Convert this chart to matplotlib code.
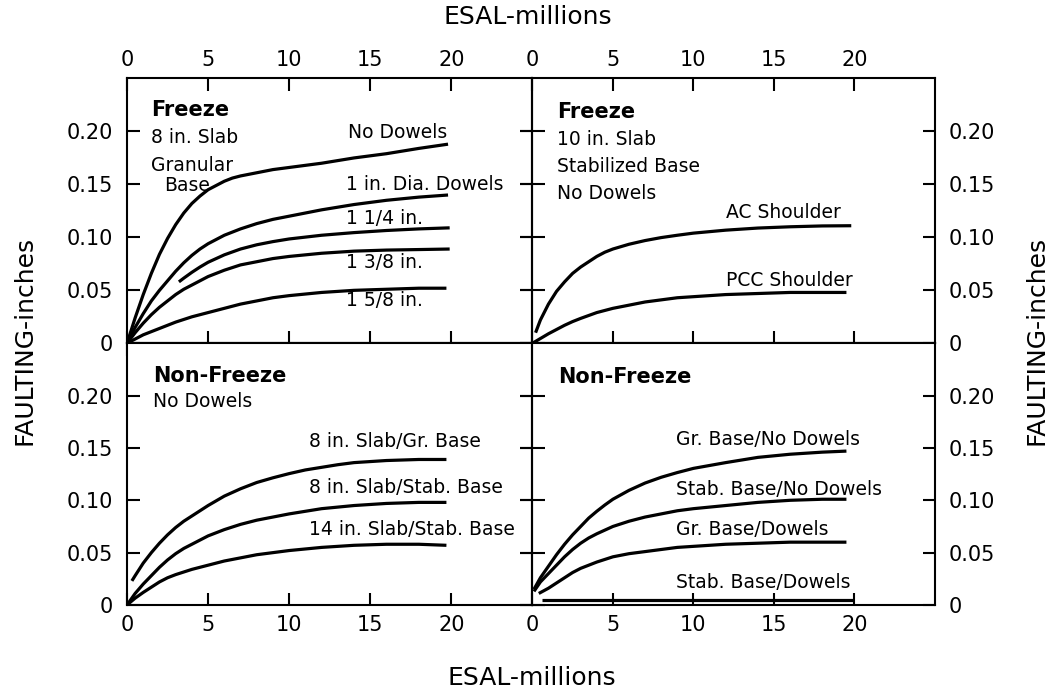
import matplotlib
matplotlib.use("Agg")
import matplotlib.pyplot as plt

plt.rcParams['font.family'] = ['DejaVu Sans']

# x ticks / y ticks
x_ticks = [0, 5, 10, 15, 20]
y_ticks = [0, 0.05, 0.10, 0.15, 0.20]
y_tick_labels = ["0", "0.05", "0.10", "0.15", "0.20"]

# Freeze, 8 in. slab, granular base
fz8_nodowel_x = [0, 0.5, 1, 1.5, 2, 2.5, 3, 3.5, 4, 4.5, 5, 5.5, 6, 6.5, 7, 8, 9, 10, 12, 14, 16, 18, 19.8]
fz8_nodowel_y = [0, 0.024, 0.046, 0.066, 0.084, 0.099, 0.112, 0.123, 0.132, 0.139, 0.145, 0.149, 0.153, 0.156, 0.158, 0.161, 0.164, 0.166, 0.170, 0.175, 0.179, 0.184, 0.188]
fz8_d1_x = [0, 0.5, 1, 1.5, 2, 2.5, 3, 3.5, 4, 4.5, 5, 6, 7, 8, 9, 10, 12, 14, 16, 18, 19.8]
fz8_d1_y = [0, 0.015, 0.028, 0.040, 0.050, 0.059, 0.068, 0.076, 0.083, 0.089, 0.094, 0.102, 0.108, 0.113, 0.117, 0.120, 0.126, 0.131, 0.135, 0.138, 0.140]
fz8_d114_x = [3.2, 3.5, 4, 4.5, 5, 6, 7, 8, 9, 10, 12, 14, 16, 18, 19.9]
fz8_d114_y = [0.058, 0.0615, 0.067, 0.072, 0.0765, 0.0835, 0.089, 0.093, 0.096, 0.0985, 0.102, 0.1045, 0.1065, 0.108, 0.109]
fz8_d138_x = [0, 0.5, 1, 1.5, 2, 2.5, 3, 3.5, 4, 5, 6, 7, 8, 9, 10, 12, 14, 16, 18, 19.9]
fz8_d138_y = [0, 0.010, 0.019, 0.027, 0.034, 0.040, 0.046, 0.051, 0.055, 0.063, 0.069, 0.074, 0.077, 0.080, 0.082, 0.085, 0.087, 0.088, 0.0885, 0.089]
fz8_d158_x = [0, 0.5, 1, 1.5, 2, 3, 4, 5, 6, 7, 8, 9, 10, 12, 14, 16, 18, 19.7]
fz8_d158_y = [0, 0.004, 0.008, 0.011, 0.014, 0.020, 0.025, 0.029, 0.033, 0.037, 0.040, 0.043, 0.045, 0.048, 0.050, 0.051, 0.052, 0.052]

# Freeze, 10 in. slab, stabilized base
fz10_ac_x = [0.2, 0.5, 1, 1.5, 2, 2.5, 3, 3.5, 4, 4.5, 5, 6, 7, 8, 9, 10, 12, 14, 16, 18, 19.8]
fz10_ac_y = [0.010, 0.022, 0.037, 0.049, 0.058, 0.066, 0.072, 0.077, 0.082, 0.086, 0.089, 0.0935, 0.097, 0.0998, 0.102, 0.104, 0.1068, 0.1088, 0.110, 0.1108, 0.111]
fz10_pcc_x = [0, 0.5, 1, 1.5, 2, 2.5, 3, 4, 5, 6, 7, 8, 9, 10, 12, 14, 16, 18, 19.5]
fz10_pcc_y = [0, 0.0045, 0.009, 0.013, 0.017, 0.0205, 0.0235, 0.029, 0.033, 0.036, 0.039, 0.041, 0.043, 0.044, 0.046, 0.047, 0.048, 0.048, 0.048]

# Non-freeze, no dowels
nf_8gr_x = [0.3, 0.5, 1, 1.5, 2, 2.5, 3, 3.5, 4, 4.5, 5, 6, 7, 8, 9, 10, 11, 12, 13, 14, 16, 18, 19.7]
nf_8gr_y = [0.023, 0.028, 0.040, 0.050, 0.059, 0.067, 0.074, 0.080, 0.085, 0.090, 0.095, 0.104, 0.111, 0.117, 0.1215, 0.1255, 0.129, 0.1315, 0.134, 0.136, 0.138, 0.139, 0.139]
nf_8st_x = [0, 0.5, 1, 1.5, 2, 2.5, 3, 3.5, 4, 5, 6, 7, 8, 9, 10, 12, 14, 16, 18, 19.7]
nf_8st_y = [0, 0.011, 0.020, 0.028, 0.036, 0.043, 0.049, 0.054, 0.058, 0.066, 0.072, 0.077, 0.081, 0.084, 0.087, 0.092, 0.095, 0.097, 0.098, 0.098]
nf_14st_x = [0, 0.5, 1, 1.5, 2, 2.5, 3, 4, 5, 6, 7, 8, 9, 10, 12, 14, 16, 18, 19.7]
nf_14st_y = [0, 0.0065, 0.012, 0.017, 0.022, 0.026, 0.029, 0.034, 0.038, 0.042, 0.045, 0.048, 0.050, 0.052, 0.055, 0.057, 0.058, 0.058, 0.057]

# Non-freeze, base / dowel combinations
nf_grnd_x = [0.1, 0.5, 1, 1.5, 2, 2.5, 3, 3.5, 4, 4.5, 5, 6, 7, 8, 9, 10, 12, 14, 16, 18, 19.5]
nf_grnd_y = [0.015, 0.026, 0.037, 0.048, 0.058, 0.067, 0.075, 0.083, 0.0895, 0.0955, 0.101, 0.1095, 0.1165, 0.122, 0.1265, 0.1305, 0.136, 0.141, 0.144, 0.146, 0.147]
nf_stnd_x = [0.1, 0.5, 1, 1.5, 2, 2.5, 3, 3.5, 4, 5, 6, 7, 8, 9, 10, 12, 14, 16, 18, 19.5]
nf_stnd_y = [0.013, 0.022, 0.030, 0.038, 0.046, 0.053, 0.059, 0.064, 0.068, 0.075, 0.080, 0.084, 0.087, 0.090, 0.092, 0.095, 0.098, 0.100, 0.101, 0.101]
nf_grd_x = [0.4, 1, 1.5, 2, 2.5, 3, 3.5, 4, 5, 6, 7, 8, 9, 10, 12, 14, 16, 18, 19.5]
nf_grd_y = [0.011, 0.016, 0.021, 0.026, 0.031, 0.035, 0.038, 0.041, 0.046, 0.049, 0.051, 0.053, 0.055, 0.056, 0.058, 0.059, 0.060, 0.060, 0.060]
nf_std_x = [0.6, 20]
nf_std_y = [0.005, 0.005]

LW = 2.3
TICK_FS = 15
LAB_FS = 13.5
HEAD_FS = 15

fig = plt.figure(figsize=(10.63, 6.91), dpi=100)

x_l, x_m, x_r = 0.1195, 0.5008, 0.8796
y_b, y_m, y_t = 0.1245, 0.5032, 0.8864

ax_tl = fig.add_axes([x_l, y_m, x_m - x_l, y_t - y_m])
ax_tr = fig.add_axes([x_m, y_m, x_r - x_m, y_t - y_m])
ax_bl = fig.add_axes([x_l, y_b, x_m - x_l, y_m - y_b])
ax_br = fig.add_axes([x_m, y_b, x_r - x_m, y_m - y_b])


def setup(ax, top, left):
    ax.set_xlim(0, 25)
    ax.set_ylim(0, 0.25)
    for s in ax.spines.values():
        s.set_linewidth(1.5)
    ax.set_xticks(x_ticks)
    ax.set_xticklabels([str(t) for t in x_ticks])
    ax.set_yticks(y_ticks)
    ax.set_yticklabels(y_tick_labels)
    if top:
        ax.xaxis.tick_top()
        ax.tick_params(axis='x', direction='in', length=9, width=1.5,
                       labelsize=TICK_FS, pad=6)
        sec = ax.secondary_xaxis('bottom')
        sec.set_xticks(x_ticks)
        sec.tick_params(direction='inout', length=18, width=1.5, labelbottom=False)
        sec.spines['bottom'].set_linewidth(1.5)
    else:
        ax.tick_params(axis='x', direction='in', length=9, width=1.5,
                       labelsize=TICK_FS, pad=7)
    if left:
        ax.tick_params(axis='y', direction='in', length=9, width=1.5,
                       labelsize=TICK_FS, pad=10)
        sec = ax.secondary_yaxis('right')
        sec.set_yticks(y_ticks)
        sec.tick_params(direction='inout', length=18, width=1.5, labelright=False)
    else:
        ax.yaxis.tick_right()
        ax.tick_params(axis='y', direction='in', length=9, width=1.5,
                       labelsize=TICK_FS, pad=10)
        sec = ax.secondary_yaxis('left')
        sec.set_yticks(y_ticks)
        sec.tick_params(direction='inout', length=18, width=1.5, labelleft=False)


setup(ax_tl, True, True)
setup(ax_tr, True, False)
setup(ax_bl, False, True)
setup(ax_br, False, False)

line_kw = dict(color='black', lw=LW, solid_joinstyle='round', solid_capstyle='butt')

# top-left panel
for xs, ys in [(fz8_nodowel_x, fz8_nodowel_y), (fz8_d1_x, fz8_d1_y),
               (fz8_d114_x, fz8_d114_y), (fz8_d138_x, fz8_d138_y),
               (fz8_d158_x, fz8_d158_y)]:
    ax_tl.plot(xs, ys, **line_kw)
ax_tl.text(1.5, 0.220, "Freeze", fontsize=HEAD_FS, fontweight='bold', va='center')
ax_tl.text(1.5, 0.194, "8 in. Slab", fontsize=LAB_FS, va='center')
ax_tl.text(1.5, 0.168, "Granular", fontsize=LAB_FS, va='center')
ax_tl.text(2.3, 0.149, "Base", fontsize=LAB_FS, va='center')
ax_tl.text(13.6, 0.199, "No Dowels", fontsize=LAB_FS, va='center')
ax_tl.text(13.5, 0.150, "1 in. Dia. Dowels", fontsize=LAB_FS, va='center')
ax_tl.text(13.5, 0.118, "1 1/4 in.", fontsize=LAB_FS, va='center')
ax_tl.text(13.5, 0.0766, "1 3/8 in.", fontsize=LAB_FS, va='center')
ax_tl.text(13.5, 0.040, "1 5/8 in.", fontsize=LAB_FS, va='center')

# top-right panel
ax_tr.plot(fz10_ac_x, fz10_ac_y, **line_kw)
ax_tr.plot(fz10_pcc_x, fz10_pcc_y, **line_kw)
ax_tr.text(1.55, 0.218, "Freeze", fontsize=HEAD_FS, fontweight='bold', va='center')
ax_tr.text(1.55, 0.192, "10 in. Slab", fontsize=LAB_FS, va='center')
ax_tr.text(1.55, 0.167, "Stabilized Base", fontsize=LAB_FS, va='center')
ax_tr.text(1.55, 0.141, "No Dowels", fontsize=LAB_FS, va='center')
ax_tr.text(12.0, 0.1236, "AC Shoulder", fontsize=LAB_FS, va='center')
ax_tr.text(12.0, 0.0597, "PCC Shoulder", fontsize=LAB_FS, va='center')

# bottom-left panel
for xs, ys in [(nf_8gr_x, nf_8gr_y), (nf_8st_x, nf_8st_y), (nf_14st_x, nf_14st_y)]:
    ax_bl.plot(xs, ys, **line_kw)
ax_bl.text(1.58, 0.219, "Non-Freeze", fontsize=HEAD_FS, fontweight='bold', va='center')
ax_bl.text(1.58, 0.194, "No Dowels", fontsize=LAB_FS, va='center')
ax_bl.text(11.2, 0.156, "8 in. Slab/Gr. Base", fontsize=LAB_FS, va='center')
ax_bl.text(11.2, 0.112, "8 in. Slab/Stab. Base", fontsize=LAB_FS, va='center')
ax_bl.text(11.2, 0.0717, "14 in. Slab/Stab. Base", fontsize=LAB_FS, va='center')

# bottom-right panel
for xs, ys in [(nf_grnd_x, nf_grnd_y), (nf_stnd_x, nf_stnd_y),
               (nf_grd_x, nf_grd_y), (nf_std_x, nf_std_y)]:
    ax_br.plot(xs, ys, **line_kw)
ax_br.text(1.6, 0.2175, "Non-Freeze", fontsize=HEAD_FS, fontweight='bold', va='center')
ax_br.text(8.9, 0.158, "Gr. Base/No Dowels", fontsize=LAB_FS, va='center')
ax_br.text(8.9, 0.110, "Stab. Base/No Dowels", fontsize=LAB_FS, va='center')
ax_br.text(8.9, 0.072, "Gr. Base/Dowels", fontsize=LAB_FS, va='center')
ax_br.text(8.9, 0.0213, "Stab. Base/Dowels", fontsize=LAB_FS, va='center')

# axis titles
fig.text(528 / 1063, 1 - 17 / 691, "ESAL-millions", fontsize=18, ha='center', va='center')
fig.text(532 / 1063, 1 - 678 / 691, "ESAL-millions", fontsize=18, ha='center', va='center')
fig.text(25 / 1063, 1 - 340 / 691, "FAULTING-inches", fontsize=18, rotation=90,
         ha='center', va='center')
fig.text(1037 / 1063, 1 - 340 / 691, "FAULTING-inches", fontsize=18, rotation=90,
         ha='center', va='center')

fig.savefig("out.png", dpi=100)
